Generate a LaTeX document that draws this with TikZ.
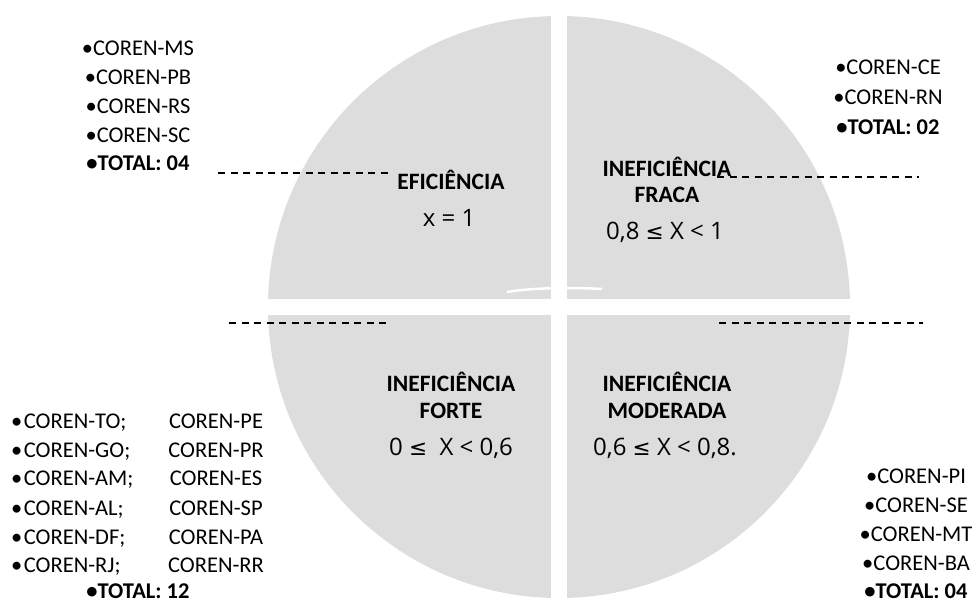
\documentclass[tikz,border=0pt]{standalone}
\usepackage{fontspec}
\setmainfont{Carlito}
\newfontfamily\formf{Open Sans}
\newfontfamily\symf{DejaVu Sans}[Scale=0.9]
\definecolor{pie}{RGB}{221,221,221}
\begin{document}
\begin{tikzpicture}[x=1pt,y=-1pt,
  lst/.style={font=\fontsize{22.5}{27}\selectfont, anchor=base, inner sep=0pt},
  lstw/.style={lst, anchor=base west},
  lstb/.style={lst, font=\fontsize{22.5}{27}\selectfont\bfseries},
  head/.style={font=\fontsize{23.5}{28}\selectfont\bfseries, anchor=base, inner sep=0pt},
  form/.style={font=\fontsize{24}{28}\selectfont\formf, anchor=base, inner sep=0pt},
  dashln/.style={line width=2pt, dash pattern=on 7pt off 5.5pt}]
\useasboundingbox (0,0) rectangle (973,603);
% pie
\fill[pie] (559,307) circle (291pt);
\fill[white] (551,0) rectangle (567,603);
\fill[white] (250,299) rectangle (870,315);
\draw[white, line width=2.5pt] (507,292) .. controls (530,288) and (570,287) .. (602,289);
% dashed leaders
\coordinate (d1a) at (218,173); \coordinate (d1b) at (392,173);
\coordinate (d2a) at (229,323); \coordinate (d2b) at (391,323);
\coordinate (d3a) at (717,177); \coordinate (d3b) at (919,177);
\coordinate (d4a) at (719,323); \coordinate (d4b) at (923,323);
\draw[dashln] (d1a) -- (d1b);
\draw[dashln] (d2a) -- (d2b);
\draw[dashln] (d3a) -- (d3b);
\draw[dashln] (d4a) -- (d4b);
% quadrant labels
\node[head] (h1) at (451,189) {EFICIÊNCIA};
\node[form] (f1) at (449,226.6) {x = 1};
\node[head] (h2) at (667,176.6) {INEFICIÊNCIA};
\node[head] (h2b) at (667,202.6) {FRACA};
\node[form] (f2) at (665,239.6) {0,8 {\symf ≤} X < 1};
\node[head] (h3) at (451,391.6) {INEFICIÊNCIA};
\node[head] (h3b) at (451,418.6) {FORTE};
\node[form] (f3) at (451,455.6) {0 {\symf ≤}\ \ X < 0,6};
\node[head] (h4) at (667,391.6) {INEFICIÊNCIA};
\node[head] (h4b) at (667,418.6) {MODERADA};
\node[form] (f4) at (665,455.6) {0,6 {\symf ≤} X < 0,8.};
% top-left list
\node[lst] (tl1) at (138,55.5) {•COREN-MS};
\node[lst] (tl2) at (138,84.5) {•COREN-PB};
\node[lst] (tl3) at (138,113.2) {•COREN-RS};
\node[lst] (tl4) at (138,142.2) {•COREN-SC};
\node[lstb] (tl5) at (138,170.5) {•TOTAL: 04};
% top-right list
\node[lst] (tr1) at (888,74.2) {•COREN-CE};
\node[lst] (tr2) at (888,104.2) {•COREN-RN};
\node[lstb] (tr3) at (888,134.2) {•TOTAL: 02};
% bottom-left list
\node[lstw] (bl1) at (11,428.5) {•\kern1.5pt COREN-TO;};
\node[lstw] (bl2) at (11,457.2) {•\kern1.5pt COREN-GO;};
\node[lstw] (bl3) at (11,485.5) {•\kern1.5pt COREN-AM;};
\node[lstw] (bl4) at (11,515) {•\kern1.5pt COREN-AL;};
\node[lstw] (bl5) at (11,544) {•\kern1.5pt COREN-DF;};
\node[lstw] (bl6) at (11,572.5) {•\kern1.5pt COREN-RJ;};
\node[lst] (br1) at (216,428.5) {COREN-PE};
\node[lst] (br2) at (216,457.2) {COREN-PR};
\node[lst] (br3) at (216,485.5) {COREN-ES};
\node[lst] (br4) at (216,515) {COREN-SP};
\node[lst] (br5) at (216,544) {COREN-PA};
\node[lst] (br6) at (216,572.5) {COREN-RR};
\node[lstb] (bl7) at (138,598.5) {•TOTAL: 12};
% bottom-right list
\node[lst] (lr1) at (916,483.2) {•COREN-PI};
\node[lst] (lr2) at (916,512.2) {•COREN-SE};
\node[lst] (lr3) at (916,541.2) {•COREN-MT};
\node[lst] (lr4) at (916,570.2) {•COREN-BA};
\node[lstb] (lr5) at (916,598) {•TOTAL: 04};
\end{tikzpicture}
\end{document}
